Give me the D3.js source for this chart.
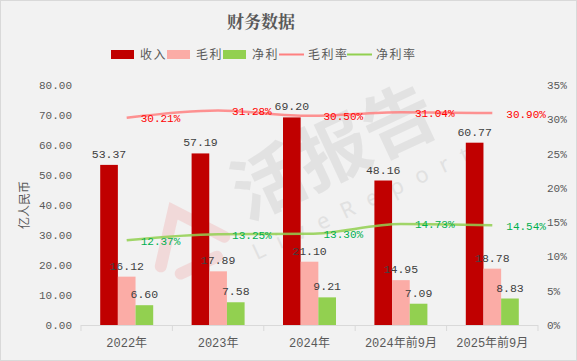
<!DOCTYPE html>
<html><head><meta charset="utf-8">
<script src="https://cdn.jsdelivr.net/npm/d3@7"></script>
<style>
html,body{margin:0;padding:0;background:#f2f2f2;}
svg{display:block;}
</style></head>
<body>
<script>
const categories = ["2022年","2023年","2024年","2024年前9月","2025年前9月"];
const revenue = [53.37, 57.19, 69.20, 48.16, 60.77];
const grossProfit = [16.12, 17.89, 21.10, 14.95, 18.78];
const netProfit = [6.60, 7.58, 9.21, 7.09, 8.83];
const grossMargin = [30.21, 31.28, 30.50, 31.04, 30.90];
const netMargin = [12.37, 13.25, 13.30, 14.73, 14.54];
const leftTicks = [0,10,20,30,40,50,60,70,80];
const rightTicks = [0,5,10,15,20,25,30,35];

const W = 577, H = 361;
const mono = "'Liberation Mono','DejaVu Sans Mono','Noto Sans CJK SC',monospace";
const svg = d3.select("body").append("svg").attr("width", W).attr("height", H);
svg.append("rect").attr("x",0.5).attr("y",0.5).attr("width",W-1).attr("height",H-1)
  .attr("fill","#f2f2f2").attr("stroke","#d9d9d9");

const x0 = d3.scaleBand().domain(categories).range([81, 538]);
const y = d3.scaleLinear().domain([0, 80]).range([325, 85]);
const yr = d3.scaleLinear().domain([0, 35]).range([325, 85]);
const series = [
  {name:"收入", vals:revenue, color:"#c00000"},
  {name:"毛利", vals:grossProfit, color:"#fbaca6"},
  {name:"净利", vals:netProfit, color:"#92d050"}
];
const x1 = d3.scaleBand().domain(series.map(s=>s.name)).range([0, 53]);

// watermark
const wm = svg.append("g").attr("transform","translate(320,170) rotate(-25)");
wm.append("text").attr("text-anchor","middle").attr("x",20).attr("y",15)
  .attr("font-family","'Noto Sans CJK SC',sans-serif").attr("font-weight","bold")
  .attr("font-size",72).attr("fill","#d6d6d6").attr("opacity",0.55).text("活报告");
wm.append("text").attr("text-anchor","middle").attr("x",30).attr("y",55)
  .attr("font-family","'Noto Sans',sans-serif").attr("letter-spacing",14)
  .attr("font-size",22).attr("fill","#d6d6d6").attr("opacity",0.6).text("LiveReport");
wm.append("path").attr("d","M-185,20 L-150,-25 L-115,20 M-170,35 L-130,35")
  .attr("fill","none").attr("stroke","#f0c4c4").attr("stroke-width",12)
  .attr("stroke-linecap","round").attr("opacity",0.55);

// title
svg.append("text").attr("x",261).attr("y",28).attr("text-anchor","middle")
  .attr("font-family","'Noto Serif CJK SC','Noto Sans CJK SC',serif").attr("font-weight","bold")
  .attr("font-size",17).attr("fill","#595959").text("财务数据");

// legend
const lg = svg.append("g").attr("font-family","'Noto Sans CJK SC',sans-serif").attr("font-size",12).attr("fill","#595959");
const legendItems = [
  {t:"收入", c:"#c00000", type:"rect", x:111},
  {t:"毛利", c:"#fbaca6", type:"rect", x:167},
  {t:"净利", c:"#92d050", type:"rect", x:223},
  {t:"毛利率", c:"#ff8080", type:"line", x:279},
  {t:"净利率", c:"#92d050", type:"line", x:347}
];
legendItems.forEach(it=>{
  if(it.type==="rect") lg.append("rect").attr("x",it.x).attr("y",50).attr("width",23).attr("height",9).attr("fill",it.c);
  else lg.append("line").attr("x1",it.x).attr("x2",it.x+25).attr("y1",54.5).attr("y2",54.5).attr("stroke",it.c).attr("stroke-width",2);
  lg.append("text").attr("x",it.x+29).attr("y",59).attr("letter-spacing",1.5).text(it.t);
});

// left axis labels
svg.append("g").selectAll("text").data(leftTicks).join("text")
  .attr("x",72).attr("y",d=>y(d)+4).attr("text-anchor","end")
  .attr("font-family",mono).attr("font-size",11).attr("fill","#595959")
  .text(d=>d.toFixed(2));
// right axis labels
svg.append("g").selectAll("text").data(rightTicks).join("text")
  .attr("x",547).attr("y",d=>yr(d)+4).attr("text-anchor","start")
  .attr("font-family",mono).attr("font-size",11).attr("fill","#595959")
  .text(d=>d+"%");
// y title
svg.append("text").attr("transform","translate(29,205) rotate(-90)").attr("text-anchor","middle")
  .attr("font-family","'Noto Sans CJK SC',sans-serif").attr("font-size",12).attr("fill","#595959")
  .text("亿人民币");

// x axis
const xa = svg.append("g");
xa.append("line").attr("x1",81).attr("x2",538).attr("y1",325.5).attr("y2",325.5).attr("stroke","#d9d9d9");
const bounds = categories.map(c=>x0(c)).concat([538]);
xa.selectAll("line.t").data(bounds).join("line").attr("class","t")
  .attr("x1",d=>d).attr("x2",d=>d).attr("y1",325).attr("y2",331).attr("stroke","#d9d9d9");
xa.selectAll("text").data(categories).join("text")
  .attr("x",c=>x0(c)+x0.bandwidth()/2).attr("y",347).attr("text-anchor","middle")
  .attr("font-family",mono).attr("font-size",12).attr("fill","#595959").text(c=>c);

// bars
const gx = c => x0(c) + (x0.bandwidth()-53)/2;
series.forEach(s=>{
  svg.append("g").selectAll("rect").data(s.vals).join("rect")
    .attr("x",(d,i)=>gx(categories[i])+x1(s.name)).attr("width",x1.bandwidth())
    .attr("y",d=>y(d)).attr("height",d=>y(0)-y(d)).attr("fill",s.color);
});
// bar labels
series.forEach(s=>{
  svg.append("g").selectAll("text").data(s.vals).join("text")
    .attr("x",(d,i)=>gx(categories[i])+x1(s.name)+x1.bandwidth()/2)
    .attr("y",d=>y(d)-7).attr("text-anchor","middle")
    .attr("font-family",mono).attr("font-size",11.5).attr("fill","#404040")
    .text(d=>d.toFixed(2));
});

// lines
const cx = c => x0(c)+x0.bandwidth()/2;
const lineGen = d3.line().x((d,i)=>cx(categories[i])).y(d=>yr(d)).curve(d3.curveMonotoneX);
[{v:grossMargin, c:"#ff8080", tc:"#ff0000"},{v:netMargin, c:"#92d050", tc:"#00b050"}].forEach(l=>{
  svg.append("path").attr("d",lineGen(l.v)).attr("fill","none").attr("stroke",l.c)
    .attr("stroke-width",2.5).attr("opacity",0.85);
  svg.append("g").selectAll("text").data(l.v).join("text")
    .attr("x",(d,i)=>cx(categories[i])+14).attr("y",d=>yr(d)+4.5)
    .attr("font-family",mono).attr("font-size",11).attr("fill",l.tc)
    .text(d=>d.toFixed(2)+"%");
});
</script>
</body></html>
